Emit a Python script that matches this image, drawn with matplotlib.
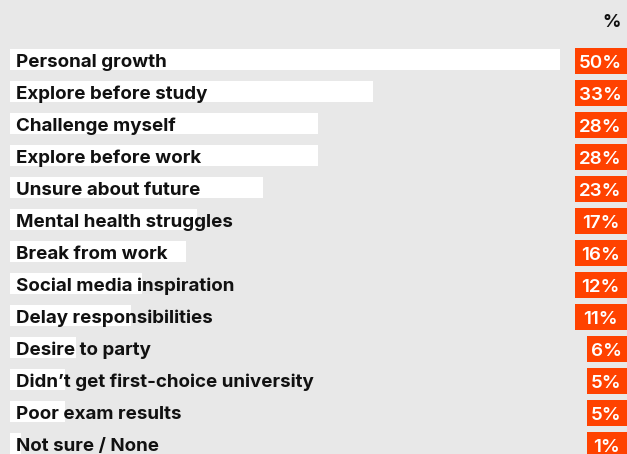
import matplotlib.pyplot as plt

reasons = [
    "Personal growth",
    "Explore before study",
    "Challenge myself",
    "Explore before work",
    "Unsure about future",
    "Mental health struggles",
    "Break from work",
    "Social media inspiration",
    "Delay responsibilities",
    "Desire to party",
    "Didn\u2019t get first-choice university",
    "Poor exam results",
    "Not sure / None",
]
shares = [50, 33, 28, 28, 23, 17, 16, 12, 11, 6, 5, 5, 1]

BG = "#e8e8e8"
ORANGE = "#ff4200"

plt.rcParams["font.family"] = ["Inter", "DejaVu Sans"]

fig = plt.figure(figsize=(6.27, 4.54), dpi=100, facecolor=BG)
ax = fig.add_axes([0, 0, 1, 1], facecolor=BG)

# one data unit on x = 11 px, rows are 32 px apart
ax.set_xlim(-10 / 11, 617 / 11)
ax.set_ylim((454 - 59.5) / 32, -59.5 / 32)
ax.axis("off")

rows = list(range(len(reasons)))
ax.barh(rows, shares, height=21 / 32, left=0, color="white", zorder=1)

# value tags: fixed right edge, width depends on digit count
right = 616.5 / 11
widths = [(52 if v >= 10 else 40) / 11 for v in shares]
lefts = [right - w for w in widths]
ax.barh([r + 0.05 for r in rows], widths, left=lefts, height=26 / 32,
        color=ORANGE, zorder=2)

for i, (name, v) in enumerate(zip(reasons, shares)):
    ax.text(0.5, i + 0.23, name, ha="left", va="baseline", fontsize=13.5,
            fontweight="bold", color="#111111", zorder=3)
    ax.text(lefts[i] + widths[i] / 2, i + 0.25, f"{v}%", ha="center",
            va="baseline", fontsize=13.5, fontweight="semibold",
            color="white", zorder=3)

ax.text(55.5, -1.17, "%", ha="right", va="center", fontsize=13,
        fontweight="bold", color="#111111")

fig.savefig("out.png", dpi=100, facecolor=BG)
